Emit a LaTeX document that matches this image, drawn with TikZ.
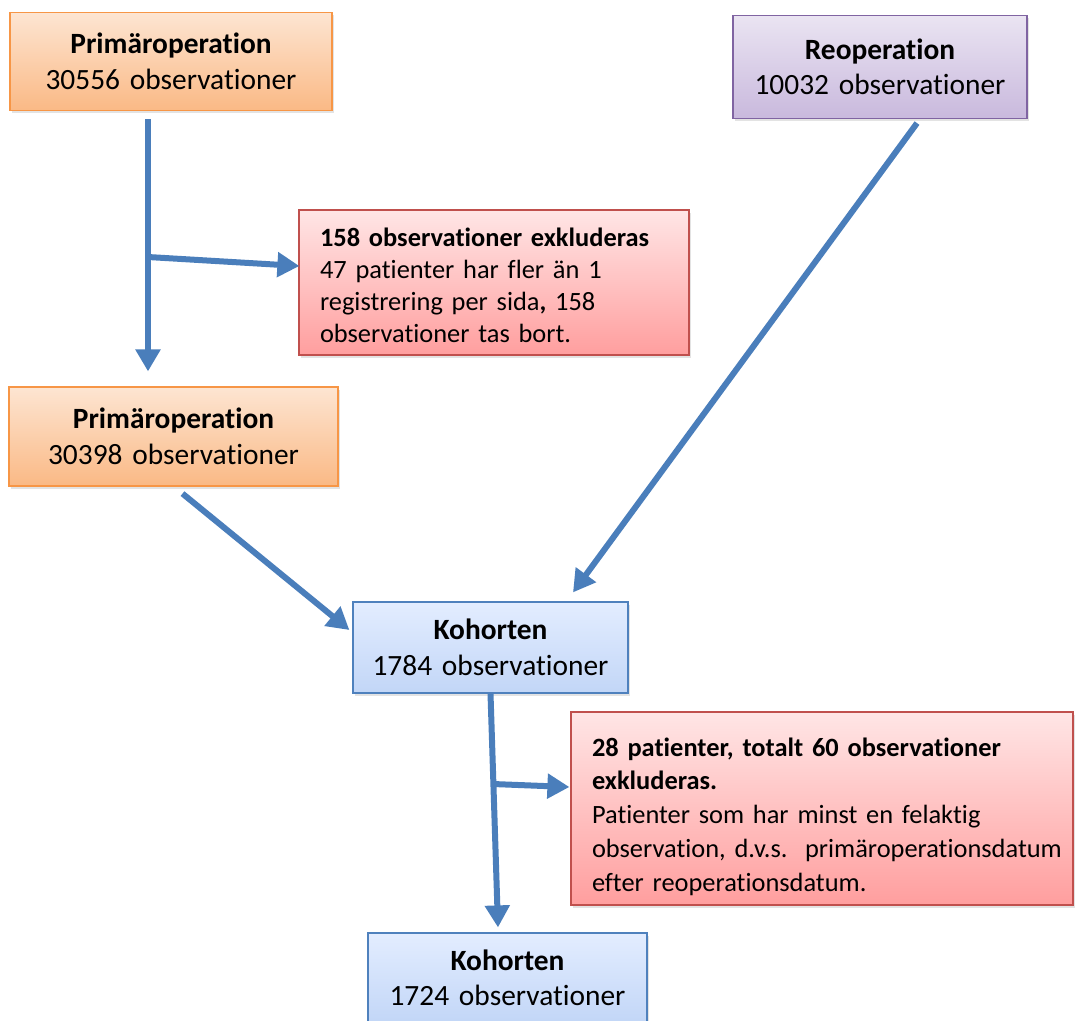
\documentclass[tikz,border=0pt]{standalone}
\usepackage{fontspec}
\setmainfont[Ligatures={NoCommon}]{Carlito}
\usepackage{tikz}
\usetikzlibrary{arrows.meta,shadows}
\definecolor{flowblue}{HTML}{4A7EBB}
\definecolor{orangeline}{HTML}{F79646}
\definecolor{purpleline}{HTML}{8064A2}
\definecolor{redline}{HTML}{C0504D}
\definecolor{blueline}{HTML}{4F81BD}

\begin{document}
\begin{tikzpicture}[x=1pt,y=-1pt,
    flow/.style={-{Triangle[width=24pt,length=22pt]},line width=6pt,draw=flowblue},
    box/.style={draw,line width=1.2pt,inner sep=0pt,
        drop shadow={shadow xshift=1.5pt,shadow yshift=-2.5pt,opacity=0.22}},
    headbox/.style={box,align=center,font=\fontsize{29.4}{35.5}\selectfont},
    exclbox/.style={box,align=left,inner xsep=21pt,draw=redline,
        top color=red!10,bottom color=red!38!white}]
  \tikzstyle{primbox}=[headbox,draw=orangeline,top color={rgb,255:red,253;green,229;blue,210},
        bottom color={rgb,255:red,250;green,185;blue,133}]
  \tikzstyle{reopbox}=[headbox,draw=purpleline,top color={rgb,255:red,234;green,228;blue,242},
        bottom color={rgb,255:red,201;green,185;blue,221}]
  \tikzstyle{kohbox}=[headbox,draw=blueline,top color={rgb,255:red,227;green,237;blue,255},
        bottom color={rgb,255:red,194;green,214;blue,247}]

  \path[use as bounding box,fill=white] (0,0) rectangle (1075,1020);

  \node[primbox,text width=322pt,minimum height=98pt]  (primA) at (171,61.5)
      {\textbf{Primäroperation}\\30556 observationer};
  \node[reopbox,text width=294pt,minimum height=103pt] (reop)  at (880,67)
      {\textbf{Reoperation}\\10032 observationer};
  \node[exclbox,text width=348pt,minimum height=145pt,
        font=\fontsize{26.4}{32}\selectfont]           (exclA) at (494,282.5)
      {\rule{0pt}{24.5pt}\textbf{158 observationer exkluderas}\\47 patienter har fler än 1\\
       registrering per sida\textbf{,} 158\\observationer tas bort.};
  \node[primbox,text width=329pt,minimum height=99pt]  (primB) at (173.5,436.5)
      {\textbf{Primäroperation}\\30398 observationer};
  \node[kohbox,text width=275pt,minimum height=91pt]   (kohA)  at (490.5,647.5)
      {\textbf{Kohorten}\\1784 observationer};
  \node[exclbox,text width=460pt,minimum height=193pt,
        font=\fontsize{26.4}{33.7}\selectfont]         (exclB) at (822,808.5)
      {\rule{0pt}{34.5pt}\textbf{28 patienter, totalt 60 observationer}\\\textbf{exkluderas.}\\
       Patienter som har minst en felaktig\\
       \mbox{observation, d.v.s.\ \ primäroperationsdatum}\\efter reoperationsdatum.};
  \node[kohbox,text width=279pt,minimum height=90pt]   (kohB)  at (507.5,978)
      {\textbf{Kohorten}\\1724 observationer};

  \coordinate (forkA) at (148,257);
  \coordinate (forkB) at (493,784);

  \draw[flow] ([xshift=-23pt,yshift=-8pt]primA.south) -- ([xshift=-25.5pt,yshift=15pt]primB.north);
  \draw[flow] (forkA) -- ([xshift=1pt,yshift=16.5pt]exclA.west);
  \draw[flow] ([xshift=9pt,yshift=-7pt]primB.south) -- ([xshift=-3pt,yshift=17.5pt]kohA.west);
  \draw[flow] ([xshift=37pt,yshift=-4pt]reop.south) -- ([xshift=82.5pt,yshift=9pt]kohA.north);
  \draw[flow] (kohA.south) -- ([xshift=-9.5pt,yshift=5pt]kohB.north);
  \draw[flow] (forkB) -- ([xshift=-1pt,yshift=21.5pt]exclB.west);
\end{tikzpicture}
\end{document}
